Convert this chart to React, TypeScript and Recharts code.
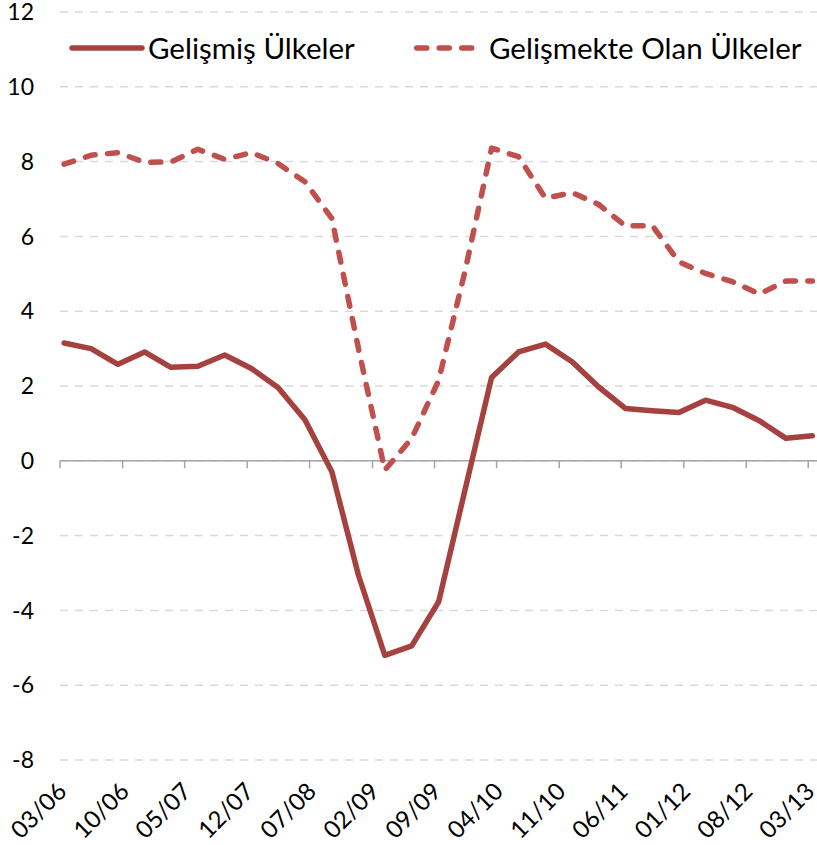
import React from 'react';
import {
    LineChart, Line, XAxis, YAxis, CartesianGrid, ReferenceLine, Legend
} from 'recharts';

// quarterly observations, month/year
const periods = [
    '03/06', '06/06', '09/06', '12/06',
    '03/07', '06/07', '09/07', '12/07',
    '03/08', '06/08', '09/08', '12/08',
    '03/09', '06/09', '09/09', '12/09',
    '03/10', '06/10', '09/10', '12/10',
    '03/11', '06/11', '09/11', '12/11',
    '03/12', '06/12', '09/12', '12/12',
    '03/13'
];

const developed = [
    3.15, 3.0, 2.58, 2.91,
    2.5, 2.53, 2.83, 2.47,
    1.96, 1.1, -0.29, -3.06,
    -5.2, -4.95, -3.77, -0.75,
    2.23, 2.91, 3.12, 2.65,
    1.98, 1.4, 1.34, 1.29,
    1.62, 1.43, 1.07, 0.6,
    0.67
];

const developing = [
    7.93, 8.17, 8.24, 7.98,
    7.99, 8.33, 8.06, 8.24,
    7.95, 7.46, 6.48, 3.0,
    -0.25, 0.6, 2.15, 5.1,
    8.36, 8.13, 7.02, 7.17,
    6.86, 6.28, 6.29, 5.32,
    5.01, 4.79, 4.46, 4.81,
    4.81
];

const tickLabels = ['03/06', '10/06', '05/07', '12/07', '07/08', '02/09', '09/09', '04/10', '11/10', '06/11', '01/12', '08/12', '03/13'];
const yTicks = [-8, -6, -4, -2, 0, 2, 4, 6, 8, 10, 12];

const FONT = 'Lato, "Open Sans", sans-serif';
const DEVELOPED_COLOR = '#a5423f';
const DEVELOPING_COLOR = '#c0504d';

const toTime = (label: string, day: number) => {
    const [mm, yy] = label.split('/').map(Number);
    return Date.UTC(2000 + yy, mm - 1, day);
};

const data = periods.map((p, i) => ({
    t: toTime(p, 15),
    developed: developed[i],
    developing: developing[i],
}));

const xTicks = tickLabels.map(l => toTime(l, 1));
const labelByTime = new Map(xTicks.map((t, i) => [t, tickLabels[i]]));
const xDomain = [toTime('03/06', 1), toTime('03/13', 31)];

const XTick = ({ x, y, payload }: any) => {
    const ax = x + 8;
    const ay = y + 33;
    return (
        <text x={ax} y={ay} textAnchor="end" transform={`rotate(-45, ${ax}, ${ay})`}
            fontSize={24} fontFamily={FONT} fill="#000">
            {labelByTime.get(payload.value)}
        </text>
    );
};

// legend item placement, keyed by series
const legendLayout: Record<string, any> = {
    developed: { left: 66, sample: 80, x1: 6, x2: 76, gap: 2 },
    developing: { left: 411, sample: 66, x1: 5.75, x2: 66, gap: 12 },
};

const renderLegend = ({ payload }: any) => (
    <div style={{ position: 'relative', height: 40, fontFamily: FONT, fontSize: 29.5, color: '#000' }}>
        {(payload || []).map((entry: any) => {
            const l = legendLayout[entry.dataKey] || legendLayout.developed;
            const dashed = entry.dataKey === 'developing' ? '10 12.5' : undefined;
            return (
                <div key={entry.dataKey} style={{ position: 'absolute', left: l.left, top: 0, height: 40, display: 'flex', alignItems: 'center', whiteSpace: 'nowrap' }}>
                    <svg width={l.sample} height={12} style={{ display: 'block' }}>
                        <line x1={l.x1} x2={l.x2} y1={6} y2={6} stroke={entry.color} strokeWidth={5.5}
                            strokeLinecap="round" strokeDasharray={dashed} />
                    </svg>
                    <span style={{ marginLeft: l.gap, lineHeight: '40px' }}>{entry.value}</span>
                </div>
            );
        })}
    </div>
);

export default function App() {
    return (
        <div style={{ position: 'absolute', left: 0, top: 0, width: 817, height: 845, background: '#fff' }}>
            <LineChart width={817} height={845} data={data} margin={{ top: 12, right: 0, bottom: 0, left: 0 }}>
                <CartesianGrid vertical={false} stroke="#d9d9d9" strokeWidth={1.5} strokeDasharray="8 7" />
                <XAxis dataKey="t" type="number" domain={xDomain} ticks={xTicks} height={85}
                    axisLine={false} tickLine={false} tickSize={0} tickMargin={0}
                    interval={0} tick={<XTick />} />
                <YAxis type="number" domain={[-8, 12]} ticks={yTicks} width={60}
                    axisLine={false} tickLine={false} tickSize={0} tickMargin={26}
                    interval={0} tick={{ fill: '#000', fontSize: 23, fontFamily: FONT }} />
                <ReferenceLine y={0} stroke="#a6a6a6" strokeWidth={1.5} />
                {xTicks.map(t => (
                    <ReferenceLine key={t} segment={[{ x: t, y: 0 }, { x: t, y: -0.2 }]}
                        stroke="#a6a6a6" strokeWidth={1.5} />
                ))}
                <Legend verticalAlign="middle" align="center" content={renderLegend}
                    wrapperStyle={{ position: 'absolute', left: 0, top: 28, width: 817, height: 40 }} />
                <Line dataKey="developed" name="Gelişmiş Ülkeler" stroke={DEVELOPED_COLOR} strokeWidth={5.5}
                    strokeLinejoin="round" strokeLinecap="round" dot={false} activeDot={false}
                    isAnimationActive={false} />
                <Line dataKey="developing" name="Gelişmekte Olan Ülkeler" stroke={DEVELOPING_COLOR} strokeWidth={5.5}
                    strokeDasharray="10 12.5" strokeLinejoin="round" strokeLinecap="round"
                    dot={false} activeDot={false} isAnimationActive={false} />
            </LineChart>
        </div>
    );
}
